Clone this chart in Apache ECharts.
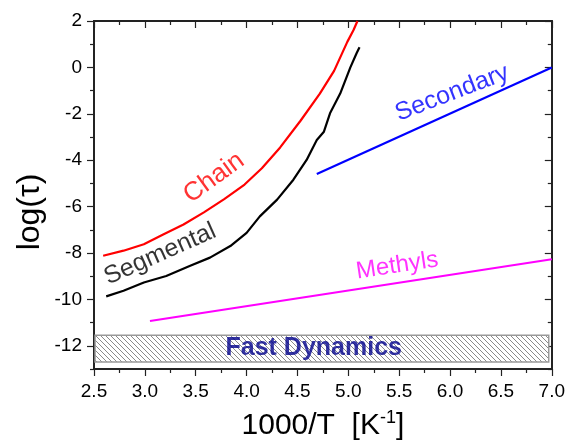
<!DOCTYPE html>
<html>
<head>
<meta charset="utf-8">
<script src="https://cdn.jsdelivr.net/npm/echarts@6/dist/echarts.min.js"></script>
<style>
html,body{margin:0;padding:0;background:#fff;}
#c{width:568px;height:446px;}
</style>
</head>
<body>
<div id="c"></div>
<script>
// ---- data ----
var chain = [[2.59,-8.12],[2.79,-7.9],[2.99,-7.62],[3.18,-7.2],[3.38,-6.77],[3.58,-6.25],[3.78,-5.68],[3.98,-5.05],[4.15,-4.35],[4.33,-3.45],[4.53,-2.3],[4.72,-1.13],[4.86,-0.15],[4.99,1.1],[5.05,1.6],[5.09,2.0]];
var segmental = [[2.62,-9.87],[2.79,-9.63],[2.99,-9.27],[3.21,-8.99],[3.44,-8.56],[3.64,-8.2],[3.84,-7.7],[4.0,-7.13],[4.13,-6.42],[4.3,-5.7],[4.46,-4.84],[4.59,-3.99],[4.69,-3.13],[4.76,-2.77],[4.82,-1.98],[4.92,-1.13],[5.02,0.0],[5.08,0.6],[5.11,0.87]];
var secondary = [[4.69,-4.6],[7.0,0.0]];
var methyls = [[3.05,-10.93],[7.0,-8.27]];
var fastBox = [[2.51,-12.7],[6.97,-11.55]];
var yMajor = [-12,-10,-8,-6,-4,-2,0,2];
var yMinor = [-13,-11,-9,-7,-5,-3,-1,1];
var curveLabels = [
  {text:'Chain', at:[3.68,-4.76]},
  {text:'Segmental', at:[3.15,-8.05]},
  {text:'Secondary', at:[6.02,-1.11]},
  {text:'Methyls', at:[5.48,-8.55]},
  {text:'Fast Dynamics', at:[4.66,-12.09]}
];

// ---- styling ----
var FONT = 'Liberation Sans, Arial, sans-serif';
var labelStyle = [
  {color:'#ff0000', rotate:36, fontSize:26},
  {color:'#000000', rotate:24, fontSize:25},
  {color:'#0000ff', rotate:21, fontSize:25},
  {color:'#ff00ff', rotate:8.5, fontSize:24},
  {color:'#00008b', rotate:0, fontSize:25, fontWeight:'bold'}
];

function hatch(){
  var s = 5, c = document.createElement('canvas');
  c.width = s; c.height = s;
  var g = c.getContext('2d');
  g.fillStyle = '#ffffff'; g.fillRect(0,0,s,s);
  g.strokeStyle = '#8a8a8a'; g.lineWidth = 1;
  g.beginPath();
  g.moveTo(0,0); g.lineTo(s,s);
  g.moveTo(-1,s-1); g.lineTo(1,s+1);
  g.moveTo(s-1,-1); g.lineTo(s+1,1);
  g.stroke();
  return c;
}

var chart = echarts.init(document.getElementById('c'));
var axisLineStyle = {color:'#222', width:1.8};
function yAx(pos, vals, len, inside, labels){
  return {
    type:'value', position:pos, min:-13, max:2, interval:1,
    splitLine:{show:false},
    axisLine:{show:true, onZero:false, lineStyle:axisLineStyle},
    axisTick:{show:true, inside:inside, length:len, customValues:vals, lineStyle:{color:'#222', width:1.2}},
    axisLabel:labels ? {show:true, customValues:vals, margin:12, fontSize:19, color:'#000', fontFamily:FONT} : {show:false}
  };
}
function xAx(pos, inside, labels){
  return {
    type:'value', position:pos, min:2.5, max:7, interval:0.5,
    splitLine:{show:false},
    axisLine:{show:true, onZero:false, lineStyle:axisLineStyle},
    axisTick:{show:true, inside:inside, length:7, lineStyle:{color:'#222', width:1.2}},
    minorTick:{show:true, splitNumber:2, length:4, lineStyle:{color:'#222', width:1.2}},
    axisLabel:labels ? {show:true, margin:13, fontSize:19, color:'#000', fontFamily:FONT,
      formatter:function(v){return v.toFixed(1);}} : {show:false},
    name: labels ? '1000/T  [K{sup|-1}]' : '',
    nameLocation:'middle', nameGap:40,
    nameTextStyle:{fontSize:30, color:'#000', fontFamily:FONT,
      rich:{sup:{fontSize:18, color:'#000', fontFamily:FONT, verticalAlign:'top', padding:[0,0,16,0]}}}
  };
}

var lineBase = {type:'line', showSymbol:false, symbol:'none', xAxisIndex:0, yAxisIndex:0, lineStyle:{width:2.2}, z:3};

chart.setOption({
  animation:false,
  backgroundColor:'#fff',
  grid:{left:94, right:16, top:21, bottom:76},
  xAxis:[xAx('bottom', false, true), xAx('top', true, false)],
  yAxis:[yAx('left', yMajor, 7, false, true), yAx('left', yMinor, 4, false, false),
         yAx('right', yMajor, 7, true, false), yAx('right', yMinor, 4, true, false)],
  graphic:[{type:'text', x:30, y:212, rotation:Math.PI/2,
    style:{text:'log(τ)', font:'32px ' + FONT, fill:'#000', textAlign:'center', textVerticalAlign:'middle'}}],
  series:[
    Object.assign({}, lineBase, {name:'box', data:[], markArea:{silent:true,
      itemStyle:{color:{image:hatch(), repeat:'repeat'}, borderColor:'#999', borderWidth:1.5},
      data:[[{coord:fastBox[0]},{coord:fastBox[1]}]]}}),
    Object.assign({}, lineBase, {name:'Chain', data:chain, lineStyle:{width:2.2, color:'#ff0000'}, itemStyle:{color:'#ff0000'}}),
    Object.assign({}, lineBase, {name:'Segmental', data:segmental, lineStyle:{width:2.2, color:'#000000'}, itemStyle:{color:'#000'}}),
    Object.assign({}, lineBase, {name:'Secondary', data:secondary, lineStyle:{width:2.2, color:'#0000ff'}, itemStyle:{color:'#0000ff'}}),
    Object.assign({}, lineBase, {name:'Methyls', data:methyls, lineStyle:{width:2.2, color:'#ff00ff'}, itemStyle:{color:'#ff00ff'}}),
    {type:'scatter', xAxisIndex:0, yAxisIndex:0, symbolSize:0, silent:true, z:5,
      data: curveLabels.map(function(l,i){
        var st = labelStyle[i];
        return {value:l.at, label:{show:true, position:'inside', formatter:l.text, rotate:st.rotate,
          color:st.color, fontSize:st.fontSize, fontWeight:st.fontWeight||'normal', fontFamily:FONT}};
      })}
  ]
});
</script>
</body>
</html>
